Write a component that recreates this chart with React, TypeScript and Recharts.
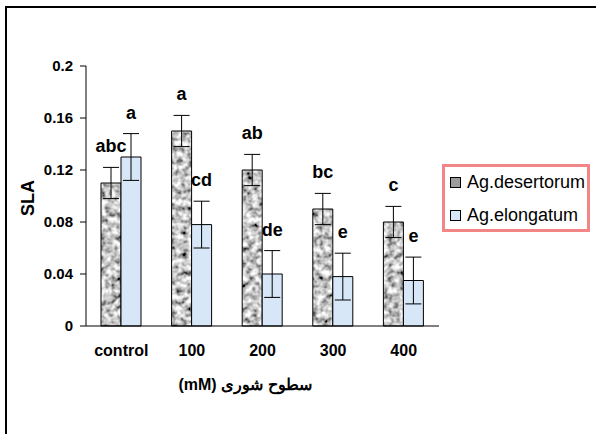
import React from 'react'
import { BarChart, Bar, XAxis, YAxis, ErrorBar, LabelList } from 'recharts'

const categories = ['control', '100', '200', '300', '400']
const desertorum = [0.11, 0.15, 0.12, 0.09, 0.08]
const elongatum = [0.13, 0.078, 0.04, 0.038, 0.035]
const desertorumErr = [0.012, 0.012, 0.012, 0.012, 0.012]
const elongatumErr = [0.018, 0.018, 0.018, 0.018, 0.018]
const desertorumLetters = ['abc', 'a', 'ab', 'bc', 'c']
const elongatumLetters = ['a', 'cd', 'de', 'e', 'e']
const yTicks = [0, 0.04, 0.08, 0.12, 0.16, 0.2]
const gridTicks = [0, 1, 2, 3, 4, 5]

const FONT = 'Arial, "Liberation Sans", sans-serif'

const data = categories.map((c, i) => ({
  name: c,
  d: desertorum[i],
  e: elongatum[i],
  dErr: desertorumErr[i],
  eErr: elongatumErr[i],
}))

function letterLabel(letters: string[], errs: number[]) {
  return (props: any) => {
    const { x, y, width, height, index, value } = props
    const errPx = value ? (height * errs[index]) / value : 0
    return (
      <text
        x={x + width / 2}
        y={y - errPx - 15}
        textAnchor="middle"
        fontFamily={FONT}
        fontWeight="bold"
        fontSize={18}
        fill="#000"
      >
        {letters[index]}
      </text>
    )
  }
}

function CategoryTick(props: any) {
  const { x, y, payload } = props
  return (
    <text x={x} y={y + 30} textAnchor="middle" fontFamily={FONT} fontWeight="bold" fontSize={16} fill="#000">
      {payload.value}
    </text>
  )
}

function ValueTick(props: any) {
  const { x, y, payload } = props
  return (
    <text x={x - 1} y={y + 5} textAnchor="end" fontFamily={FONT} fontWeight="bold" fontSize={15} fill="#000">
      {String(payload.value)}
    </text>
  )
}

function LegendBox() {
  const items = [
    { label: 'Ag.desertorum', fill: '#9c9c9c' },
    { label: 'Ag.elongatum', fill: '#d7e7f7' },
  ]
  return (
    <div
      style={{
        position: 'absolute',
        left: 442,
        top: 164,
        width: 142,
        height: 62,
        border: '3px solid #f28686',
        fontFamily: FONT,
        fontSize: 18,
      }}
    >
      {items.map((it, i) => (
        <div key={it.label} style={{ position: 'absolute', left: 0, top: 4 + i * 33, height: 22, display: 'flex', alignItems: 'center' }}>
          <span
            style={{
              display: 'inline-block',
              width: 9,
              height: 9,
              marginLeft: 5,
              marginRight: 6,
              border: '1px solid #000',
              background: it.fill,
            }}
          />
          <span>{it.label}</span>
        </div>
      ))}
    </div>
  )
}

export default function App() {
  return (
    <div style={{ position: 'absolute', left: 0, top: 0, width: 596, height: 434, background: '#fff', overflow: 'hidden' }}>
      <div
        style={{
          position: 'absolute',
          left: 5,
          top: 6,
          width: 620,
          height: 460,
          borderTop: '2px solid #000',
          borderLeft: '2px solid #000',
        }}
      />
      <div style={{ position: 'absolute', left: 0, top: 0 }}>
        <BarChart
          width={596}
          height={434}
          data={data}
          margin={{ top: 66, right: 157, bottom: 78, left: 0 }}
          barGap={0}
          barSize={20}
        >
          <defs>
            <filter id="graniteNoise" x="0" y="0" width="1" height="1">
              <feTurbulence type="fractalNoise" baseFrequency="0.17" numOctaves="2" seed="11" result="n" />
              <feColorMatrix
                in="n"
                type="matrix"
                values="1.8 0 0 0 -0.33  1.8 0 0 0 -0.33  1.8 0 0 0 -0.33  0 0 0 0 1"
              />
            </filter>
            <pattern id="granite" patternUnits="userSpaceOnUse" x="0" y="0" width="596" height="434">
              <rect x="0" y="0" width="596" height="434" filter="url(#graniteNoise)" />
            </pattern>
          </defs>
          <XAxis
            dataKey="name"
            stroke="#000"
            tickLine={false}
            tickSize={0}
            tickMargin={0}
            height={30}
            tick={<CategoryTick />}
            interval={0}
            label={{
              content: () => (
                <text
                  x={245}
                  y={390}
                  textAnchor="middle"
                  direction="rtl"
                  fontFamily={FONT}
                  fontWeight="bold"
                  fontSize={16}
                  fill="#000"
                >
                  سطوح شوری (mM)
                </text>
              ),
            }}
          />
          <XAxis
            xAxisId="grid"
            type="number"
            domain={[0, 5]}
            ticks={gridTicks}
            tick={false}
            axisLine={false}
            tickLine={{ stroke: '#000' }}
            tickSize={5}
            height={0}
          />
          <YAxis
            width={86}
            domain={[0, 0.2]}
            ticks={yTicks}
            stroke="#000"
            tickSize={6}
            tickMargin={6}
            tickLine={{ stroke: '#000' }}
            tick={<ValueTick />}
            label={{
              content: () => (
                <text
                  x={0}
                  y={0}
                  transform="translate(34 198) rotate(-90)"
                  textAnchor="middle"
                  fontFamily={FONT}
                  fontWeight="bold"
                  fontSize={18}
                  fill="#000"
                >
                  SLA
                </text>
              ),
            }}
          />
          <Bar dataKey="d" name="Ag.desertorum" fill="url(#granite)" stroke="#000" strokeWidth={1} isAnimationActive={false}>
            <ErrorBar dataKey="dErr" width={8} stroke="#000" strokeWidth={1} direction="y" />
            <LabelList dataKey="d" content={letterLabel(desertorumLetters, desertorumErr)} />
          </Bar>
          <Bar dataKey="e" name="Ag.elongatum" fill="#d7e7f7" stroke="#000" strokeWidth={1} isAnimationActive={false}>
            <ErrorBar dataKey="eErr" width={8} stroke="#000" strokeWidth={1} direction="y" />
            <LabelList dataKey="e" content={letterLabel(elongatumLetters, elongatumErr)} />
          </Bar>
        </BarChart>
      </div>
      <LegendBox />
    </div>
  )
}
